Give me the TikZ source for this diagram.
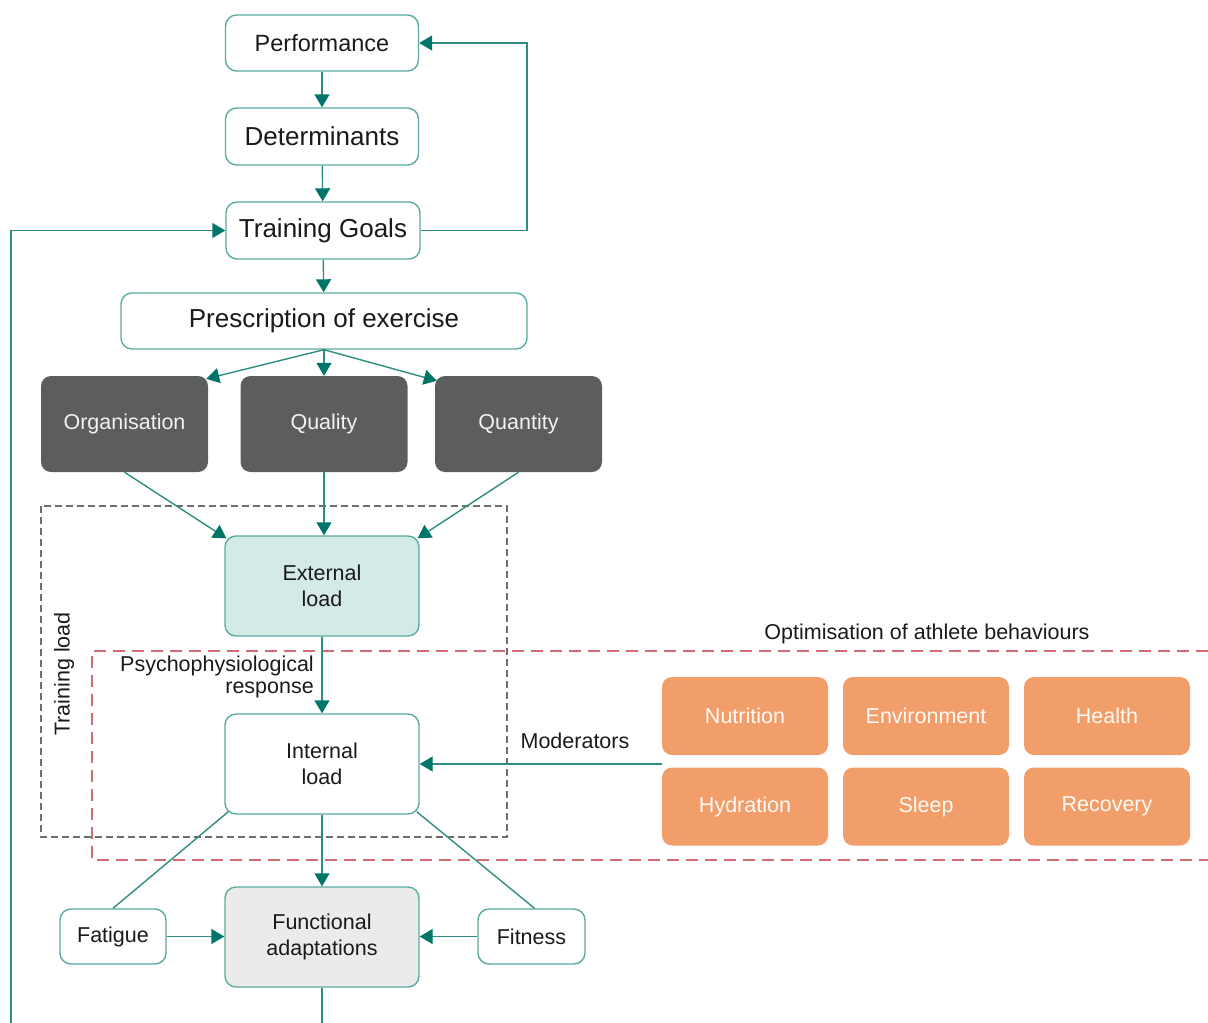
\documentclass[tikz,border=0pt]{standalone}
\usepackage{fontspec}
\setmainfont{Liberation Sans}
\usetikzlibrary{arrows.meta,calc}
\definecolor{tealline}{HTML}{2E8C83}
\definecolor{tealhead}{HTML}{00766B}
\definecolor{tealbord}{HTML}{5AABA2}
\definecolor{darkbox}{HTML}{5C5D5F}
\definecolor{orangebox}{HTML}{F29E6A}
\definecolor{extfill}{HTML}{D4EAE7}
\definecolor{funcfill}{HTML}{EBEBEB}
\definecolor{greydash}{HTML}{6E6E6E}
\definecolor{reddash}{HTML}{D26B75}
\definecolor{txt}{HTML}{1A1A1A}
\newcommand{\fsz}[2]{\fontsize{#1}{#2}\selectfont}
\begin{document}
\begin{tikzpicture}[x=1pt,y=-1pt,
  wbox/.style={draw=tealbord, line width=1.4pt, rounded corners=11pt, fill=white, inner sep=0pt, align=center, text=txt},
  bigtxt/.style={font=\fsz{26}{30}},
  smalltxt/.style={font=\fsz{21.5}{25.5}},
  darkb/.style={fill=darkbox, rounded corners=10pt, inner sep=0pt, align=center, text=white!95!black, font=\fsz{21.5}{25.5}, minimum width=167pt, minimum height=96pt},
  orab/.style={fill=orangebox, rounded corners=10pt, inner sep=0pt, align=center, text=white!96!orange, font=\fsz{21.5}{25.5}, minimum width=166pt, minimum height=78pt},
  lbl/.style={text=txt, font=\fsz{21.5}{22.5}, inner sep=0pt},
  conn/.style={draw=tealline, line width=1.4pt},
  arr/.style={conn, -{Triangle[length=13pt,width=15pt,color=tealhead]}},
  greyd/.style={draw=greydash, line width=1.4pt, dash pattern=on 7pt off 4pt},
  redd/.style={draw=reddash, line width=1.4pt, dash pattern=on 12pt off 7pt}
]
\useasboundingbox (0,0) rectangle (1208,1023);

% dashed regions
\draw[greyd] (41,506) rectangle (507,837);
\draw[redd] (1208,651) -- (92,651) -- (92,860) -- (1208,860);

% top chain
\node[wbox, font=\fsz{23.5}{28}, minimum width=193pt, minimum height=56pt] (perf) at (322,43) {Performance};
\node[wbox, bigtxt, minimum width=193pt, minimum height=57pt] (det) at (322,136.5) {Determinants};
\node[wbox, bigtxt, minimum width=194pt, minimum height=57pt] (goals) at (323,230.5) {Training Goals};
\node[wbox, bigtxt, minimum width=406pt, minimum height=56pt] (presc) at (324,321) {Prescription of exercise};

% dark boxes
\node[darkb] (org) at (124.5,424) {Organisation};
\node[darkb] (qual) at (324,424) {Quality};
\node[darkb] (quan) at (518.5,424) {Quantity};

% load boxes
\node[wbox, smalltxt, fill=extfill, minimum width=194pt, minimum height=100pt] (ext) at (322,586) {External\\load};
\node[wbox, smalltxt, minimum width=194pt, minimum height=100pt] (int) at (322,764) {Internal\\load};
\node[wbox, smalltxt, fill=funcfill, minimum width=194pt, minimum height=100pt] (func) at (322,937) {Functional\\adaptations};
\node[wbox, smalltxt, minimum width=106pt, minimum height=55pt] (fat) at (113,936.5) {Fatigue};
\node[wbox, smalltxt, minimum width=107pt, minimum height=55pt] (fit) at (531.5,936.5) {Fitness};

% orange boxes
\node[orab] (nutr) at (745,716) {Nutrition};
\node[orab] (env) at (926,716) {Environment};
\node[orab] (health) at (1107,716) {Health};
\node[orab] (hyd) at (745,806.5) {Hydration};
\node[orab] (sleep) at (926,806.5) {Sleep};
\node[orab] (rec) at (1107,806.5) {Recovery};

% labels
\node[lbl, rotate=90] (tload) at (64,674) {Training load};
\node[lbl, align=right, anchor=east] (psych) at (314,677) {Psychophysiological\\response};
\node[lbl] (modlbl) at (575,741) {Moderators};
\node[lbl] (optlbl) at (927,634) {Optimisation of athlete behaviours};

% coordinates for free ends
\coordinate (modS) at (662,764);
\coordinate (loopS) at (11,1023);
\coordinate (funcE) at (322,1023);
\coordinate (fbR) at (527,230.5);

% connectors
\draw[arr] (perf) -- (det);
\draw[arr] (det) -- (goals);
\draw[arr] (goals) -- (presc);
\draw[arr] (goals.east) -- (fbR) |- (perf.east);
\draw[arr] (loopS) |- (goals.west);

\draw[arr] (presc.south) -- ($(org.north east)+(-2,3)$);
\draw[arr] (presc.south) -- (qual.north);
\draw[arr] (presc.south) -- ($(quan.north west)+(2,5)$);

\draw[arr] (org.south) -- ($(ext.north west)+(2,3)$);
\draw[arr] (qual.south) -- (qual.south |- ext.north);
\draw[arr] (quan.south) -- ($(ext.north east)+(-2,3)$);

\draw[arr] (ext) -- (int);
\draw[arr] (modS) -- (int.east);
\draw[arr] (int) -- (func);
\draw[conn] ($(int.south west)+(4,-3)$) -- (fat.north);
\draw[conn] ($(int.south east)+(-3,-3)$) -- ($(fit.north)+(3,0)$);
\draw[arr] (fat.east) -- (fat.east -| func.west);
\draw[arr] (fit.west) -- (fit.west -| func.east);
\draw[conn] (func.south) -- (funcE);
\end{tikzpicture}
\end{document}
